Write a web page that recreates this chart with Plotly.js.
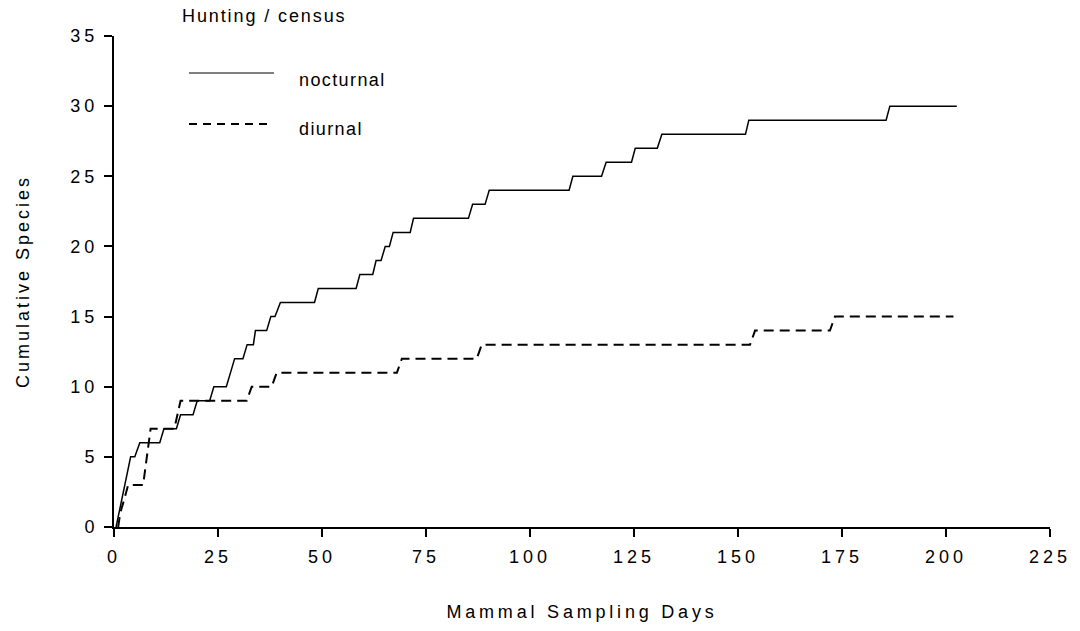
<!DOCTYPE html>
<html>
<head>
<meta charset="utf-8">
<script src="https://cdn.plot.ly/plotly-3.0.1.min.js"></script>
<style>
html,body{margin:0;padding:0;background:#fff;}
#chart{width:1080px;height:631px;}
.xtick text,.ytick text{letter-spacing:4px;}
.xtitle{letter-spacing:3.8px;}
.ytitle{letter-spacing:3px;}
.annotation-text{letter-spacing:1.4px;}
.annotation[data-index="0"] .annotation-text{letter-spacing:1.9px;}
</style>
</head>
<body>
<div id="chart"></div>
<script>
// Nocturnal cumulative species (step vertices)
var nocturnalDays = [0.5, 4, 5, 6.2, 11, 12, 15, 16, 19, 20, 23, 24, 27, 28, 29, 31, 32, 33.5, 34, 36.7,
  37.7, 38.7, 40, 48.2, 49.1, 58.2, 59.1, 62.2, 63, 64.2, 65.2, 66.2, 67.1, 71.2, 72, 85.2, 86.2, 89.2, 90.2, 109.4,
  110.3, 117.2, 118.3, 124.4, 125.3, 130.6, 131.7, 151.8, 152.6, 185.6, 186.5, 202.6];
var nocturnalSpecies = [0, 5, 5, 6, 6, 7, 7, 8, 8, 9, 9, 10, 10, 11, 12, 12, 13, 13, 14, 14,
  15, 15, 16, 16, 17, 17, 18, 18, 19, 19, 20, 20, 21, 21, 22, 22, 23, 23, 24, 24,
  25, 25, 26, 26, 27, 27, 28, 28, 29, 29, 30, 30];

// Diurnal cumulative species (step vertices)
var diurnalDays = [1, 1.5, 2.5, 3.4, 7, 8.8, 14.5, 16, 31.9, 33.1, 37.9, 39.1, 68, 69.2, 87.2, 88.4, 152.9, 154.1, 172.1, 173.3, 201.8];
var diurnalSpecies = [0, 1, 2, 3, 3, 7, 7, 9, 9, 10, 10, 11, 11, 12, 12, 13, 13, 14, 14, 15, 15];

var xTicks = [0, 25, 50, 75, 100, 125, 150, 175, 200, 225];
var yTicks = [0, 5, 10, 15, 20, 25, 30, 35];

var legendTitle = "Hunting / census";
var seriesNames = ["nocturnal", "diurnal"];

var FONT = "Liberation Sans, Arial, Helvetica, sans-serif";
var TXT = {family: FONT, size: 18, color: "#000"};

var traces = [
  {x: nocturnalDays, y: nocturnalSpecies, mode: "lines", name: seriesNames[0],
   line: {color: "#000", width: 1.5}, hoverinfo: "x+y"},
  {x: diurnalDays, y: diurnalSpecies, mode: "lines", name: seriesNames[1],
   line: {color: "#000", width: 2, dash: "10px,6px"}, hoverinfo: "x+y"}
];

var layout = {
  width: 1080, height: 631,
  margin: {l: 114, r: 30, t: 36, b: 104},
  paper_bgcolor: "#fff", plot_bgcolor: "#fff",
  showlegend: false,
  font: TXT,
  xaxis: {
    range: [0, 225], tickvals: xTicks, ticktext: xTicks.map(String),
    showgrid: false, zeroline: false, showline: true, linecolor: "#000", linewidth: 2,
    ticks: "outside", ticklen: 8, tickwidth: 2, tickcolor: "#000",
    ticklabelstandoff: 4,
    tickfont: TXT,
    title: {text: "Mammal Sampling Days", font: TXT, standoff: 40},
    automargin: false
  },
  yaxis: {
    range: [0, 35], tickvals: yTicks, ticktext: yTicks.map(String),
    showgrid: false, zeroline: false, showline: true, linecolor: "#000", linewidth: 2,
    ticks: "outside", ticklen: 8, tickwidth: 2, tickcolor: "#000",
    ticklabelstandoff: 2,
    tickfont: TXT,
    title: {text: "Cumulative Species", font: TXT, standoff: 36},
    automargin: false
  },
  shapes: [
    {type: "line", xref: "paper", yref: "paper", x0: 75/936, x1: 160/936, y0: (527-73)/491, y1: (527-73)/491,
     line: {color: "#000", width: 1.2}},
    {type: "line", xref: "paper", yref: "paper", x0: 75/936, x1: 153/936, y0: (527-124)/491, y1: (527-124)/491,
     line: {color: "#000", width: 2, dash: "8px,6px"}}
  ],
  annotations: [
    {text: legendTitle, xref: "paper", yref: "paper", x: 70/936, y: (527-16)/491,
     xanchor: "left", yanchor: "middle", showarrow: false, font: TXT},
    {text: seriesNames[0], xref: "paper", yref: "paper", x: 183/936, y: (527-80)/491,
     xanchor: "left", yanchor: "middle", showarrow: false, font: TXT},
    {text: seriesNames[1], xref: "paper", yref: "paper", x: 183/936, y: (527-129)/491,
     xanchor: "left", yanchor: "middle", showarrow: false, font: TXT}
  ]
};

Plotly.newPlot("chart", traces, layout, {displayModeBar: false, staticPlot: true});
</script>
</body>
</html>
